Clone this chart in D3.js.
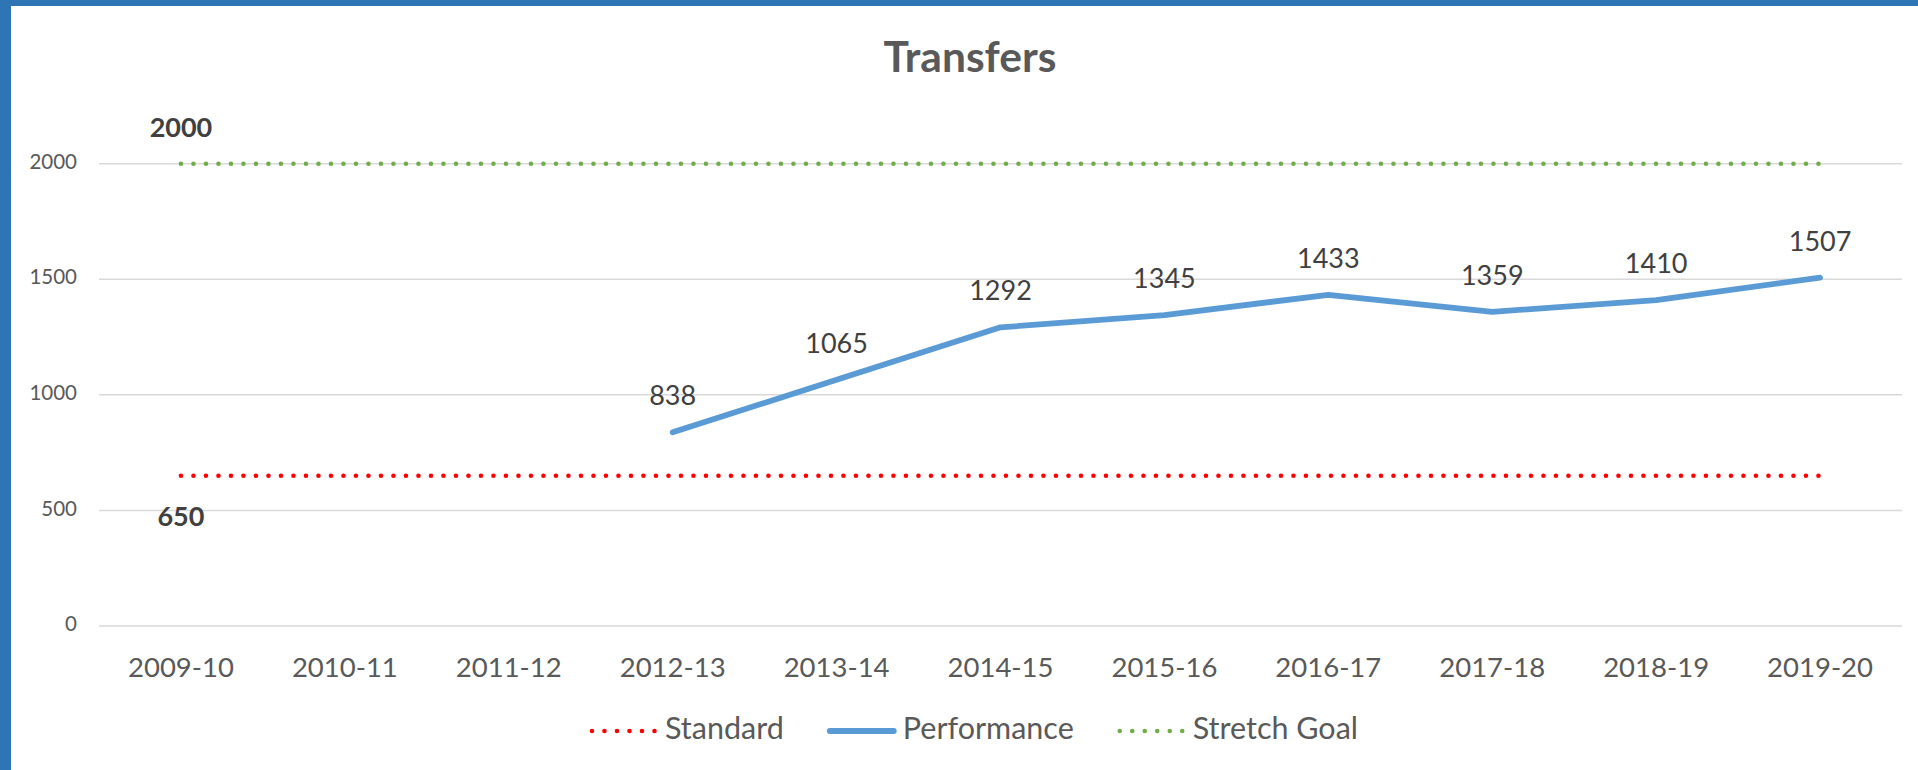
<!DOCTYPE html>
<html>
<head>
<meta charset="utf-8">
<script src="https://cdn.jsdelivr.net/npm/d3@7"></script>
<style>
  html, body { margin: 0; padding: 0; background: #ffffff; }
  svg { display: block; font-family: Lato, "Open Sans", sans-serif; }
</style>
</head>
<body>
<div id="canvas"></div>
<script>
"use strict"

// DATA

let years = ["2009-10", "2010-11", "2011-12", "2012-13", "2013-14", "2014-15",
             "2015-16", "2016-17", "2017-18", "2018-19", "2019-20"];

let standard = [650, 650, 650, 650, 650, 650, 650, 650, 650, 650, 650];
let performance = [null, null, null, 838, 1065, 1292, 1345, 1433, 1359, 1410, 1507];
let stretchGoal = [2000, 2000, 2000, 2000, 2000, 2000, 2000, 2000, 2000, 2000, 2000];

let yTicks = [0, 500, 1000, 1500, 2000];

let seriesNames = ["Standard", "Performance", "Stretch Goal"];

// CANVAS SETUP

let svgWidth = 1918;
let svgHeight = 770;

let leftMargin = 99;    // where the gridlines start
let rightMargin = 16;
let topY = 163.7;       // y of the 2000 gridline
let bottomY = 626;      // y of the 0 gridline

let svg = d3.select("#canvas")
    .append("svg")
    .attr("width", svgWidth)
    .attr("height", svgHeight);

svg.append("rect")
    .attr("width", svgWidth)
    .attr("height", svgHeight)
    .attr("fill", "#ffffff");

// blue frame on the left and top
svg.append("rect")
    .attr("x", 0).attr("y", 0)
    .attr("width", 11).attr("height", svgHeight)
    .attr("fill", "#2E75B6");

svg.append("rect")
    .attr("x", 0).attr("y", 0)
    .attr("width", svgWidth).attr("height", 6)
    .attr("fill", "#2E75B6");

// SCALES

let xScale = d3.scaleBand()
    .domain(years)
    .range([leftMargin, svgWidth - rightMargin]);

let xMid = function (year) {
    return xScale(year) + xScale.bandwidth() / 2;
};

let yScale = d3.scaleLinear()
    .domain([0, 2000])
    .range([bottomY, topY]);

// GRIDLINES + Y LABELS

svg.selectAll(".grid")
    .data(yTicks)
    .join("line")
    .attr("class", "grid")
    .attr("x1", leftMargin)
    .attr("x2", svgWidth - rightMargin)
    .attr("y1", function (d) { return yScale(d); })
    .attr("y2", function (d) { return yScale(d); })
    .attr("stroke", "#d9d9d9")
    .attr("stroke-width", 1.5);

svg.selectAll(".ylabel")
    .data(yTicks)
    .join("text")
    .attr("class", "ylabel")
    .attr("x", 77)
    .attr("y", function (d) { return yScale(d); })
    .attr("text-anchor", "end")
    .attr("dominant-baseline", "middle")
    .style("font-size", "20.5px")
    .style("fill", "#595959")
    .text(function (d) { return d; });

// X LABELS

svg.selectAll(".xlabel")
    .data(years)
    .join("text")
    .attr("class", "xlabel")
    .attr("x", function (d) { return xMid(d); })
    .attr("y", 677)
    .attr("text-anchor", "middle")
    .style("font-size", "27.5px")
    .style("fill", "#595959")
    .text(function (d) { return d; });

// LINES

let line = d3.line()
    .defined(function (d) { return d != null; })
    .x(function (d, i) { return xMid(years[i]); })
    .y(function (d) { return yScale(d); });

svg.append("path")
    .attr("d", line(standard))
    .attr("fill", "none")
    .attr("stroke", "#FF0000")
    .attr("stroke-width", 4.6)
    .attr("stroke-linecap", "round")
    .attr("stroke-dasharray", "0 12.5");

svg.append("path")
    .attr("d", line(stretchGoal))
    .attr("fill", "none")
    .attr("stroke", "#70AD47")
    .attr("stroke-width", 4.6)
    .attr("stroke-linecap", "round")
    .attr("stroke-dasharray", "0 12.5");

svg.append("path")
    .attr("d", line(performance))
    .attr("fill", "none")
    .attr("stroke", "#5B9BD5")
    .attr("stroke-width", 5.8)
    .attr("stroke-linecap", "round")
    .attr("stroke-linejoin", "round");

// DATA LABELS

let perfPoints = performance
    .map(function (v, i) { return { year: years[i], value: v }; })
    .filter(function (d) { return d.value != null; });

svg.selectAll(".dlabel")
    .data(perfPoints)
    .join("text")
    .attr("class", "dlabel")
    .attr("x", function (d) { return xMid(d.year); })
    .attr("y", function (d) { return yScale(d.value) - 27; })
    .attr("text-anchor", "middle")
    .style("font-size", "27px")
    .style("fill", "#404040")
    .text(function (d) { return d.value; });

// bold labels on the first point of the target lines
svg.append("text")
    .attr("x", xMid(years[0]))
    .attr("y", yScale(stretchGoal[0]) - 27)
    .attr("text-anchor", "middle")
    .style("font-size", "27px")
    .style("font-weight", "bold")
    .style("fill", "#404040")
    .text(stretchGoal[0]);

svg.append("text")
    .attr("x", xMid(years[0]))
    .attr("y", yScale(standard[0]) + 50)
    .attr("text-anchor", "middle")
    .style("font-size", "27px")
    .style("font-weight", "bold")
    .style("fill", "#404040")
    .text(standard[0]);

// TITLE

svg.append("text")
    .attr("x", 970)
    .attr("y", 72)
    .attr("text-anchor", "middle")
    .style("font-size", "42.5px")
    .style("font-weight", "bold")
    .style("fill", "#595959")
    .text("Transfers");

// LEGEND

let legendStyles = [
    { color: "#FF0000", width: 4.6, dash: "0 12.5" },
    { color: "#5B9BD5", width: 5.8, dash: null },
    { color: "#70AD47", width: 4.6, dash: "0 12.5" }
];

let legendY = 731;
let symbolWidth = 68;
let symbolGap = 7;
let itemGap = 44;

let legend = svg.append("g");

let items = legend.selectAll(".legend-item")
    .data(seriesNames)
    .join("g")
    .attr("class", "legend-item");

items.append("line")
    .attr("x1", 2)
    .attr("x2", symbolWidth - 2)
    .attr("y1", legendY)
    .attr("y2", legendY)
    .attr("stroke", function (d, i) { return legendStyles[i].color; })
    .attr("stroke-width", function (d, i) { return legendStyles[i].width; })
    .attr("stroke-linecap", "round")
    .attr("stroke-dasharray", function (d, i) { return legendStyles[i].dash; });

items.append("text")
    .attr("x", symbolWidth + symbolGap)
    .attr("y", legendY)
    .attr("dominant-baseline", "middle")
    .style("font-size", "30.5px")
    .style("fill", "#595959")
    .text(function (d) { return d; });

// lay the items out side by side and center them
let offsets = [];
let total = 0;
items.each(function () {
    let w = symbolWidth + symbolGap + d3.select(this).select("text").node().getComputedTextLength();
    offsets.push(total);
    total += w + itemGap;
});
total -= itemGap;

let legendStart = 974 - total / 2;
items.attr("transform", function (d, i) {
    return "translate(" + (legendStart + offsets[i]) + ",0)";
});
</script>
</body>
</html>
